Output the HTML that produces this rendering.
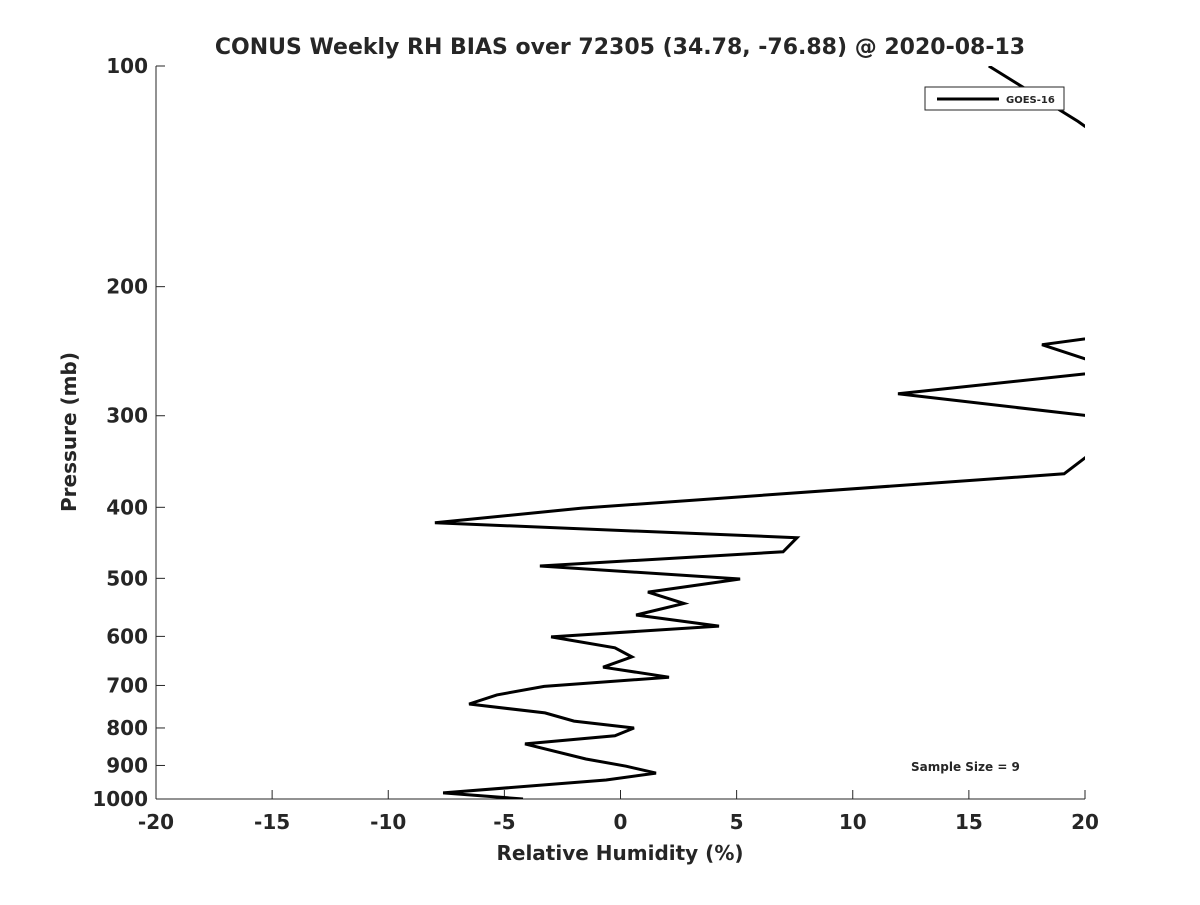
<!DOCTYPE html>
<html><head><meta charset="utf-8"><style>
body{margin:0;background:#fff;}
svg text{font-family:"DejaVu Sans","Liberation Sans",sans-serif;fill:#262626;}
</style></head><body>
<svg width="1200" height="900" viewBox="0 0 1200 900">
<defs><clipPath id="plotclip"><rect x="156" y="66" width="929" height="733"/></clipPath></defs>
<rect width="1200" height="900" fill="#fff"/>
<text x="620" y="54" text-anchor="middle" font-size="22" font-weight="bold" fill="#000">CONUS Weekly RH BIAS over 72305 (34.78, -76.88) @ 2020-08-13</text>
<g id="axes"></g>
<g id="series" clip-path="url(#plotclip)"></g>
<g>
<rect x="925" y="87" width="139" height="23" fill="#fff" stroke="#262626" stroke-width="1"/>
<line x1="937" y1="99" x2="999" y2="99" stroke="#000" stroke-width="3"/>
<text x="1006" y="103" font-size="10" font-weight="bold" fill="#000">GOES-16</text>
</g>
<text x="911" y="771" font-size="12" font-weight="bold" fill="#000">Sample Size = 9</text>
<text x="620" y="860" text-anchor="middle" font-size="20" font-weight="bold">Relative Humidity (%)</text>
<text transform="translate(76,432) rotate(-90)" text-anchor="middle" font-size="20" font-weight="bold">Pressure (mb)</text>
</svg>
<script>
const xTicks=[-20,-15,-10,-5,0,5,10,15,20];
const yTicks=[100,200,300,400,500,600,700,800,900,1000];
const pressure=[100,119,134,231,240,260,280,305,360,401,420,440,460,481,501,522,541,561,581,601,622,640,661,682,702,721,742,763,783,800,820,841,882,902,922,942,981,1000];
const rhBias=[15.86,19.7,22,22,18.15,21.49,11.95,22.09,19.1,-1.66,-7.99,7.6,7.0,-3.47,5.15,1.18,2.73,0.67,4.24,-2.99,-0.24,0.49,-0.75,2.09,-3.29,-5.32,-6.52,-3.25,-2.0,0.58,-0.24,-4.11,-1.49,0.24,1.53,-0.62,-7.64,-4.2];
const L=156,R=1085,T=66,B=799;
const xs=v=>L+(v+20)/40*(R-L);
const ys=p=>T+(Math.log10(p)-2)*(B-T);
const NS='http://www.w3.org/2000/svg';
const ax=document.getElementById('axes');
function mk(tag,attrs,parent){const e=document.createElementNS(NS,tag);for(const k in attrs)e.setAttribute(k,attrs[k]);parent.appendChild(e);return e;}
let e=mk('line',{x1:L,y1:T,x2:L,y2:B,stroke:'#262626','stroke-width':1},ax);


e=mk('line',{x1:L,y1:B,x2:R,y2:B,stroke:'#262626','stroke-width':1},ax);


xTicks.forEach(v=>{
 const x=xs(v);
 let t=mk('line',{x1:x,y1:B,x2:x,y2:B-9,stroke:'#262626'},ax);
 
 
 let l=mk('text',{x:x,y:829,'text-anchor':'middle','font-size':20,'font-weight':'bold'},ax);
 l.textContent=v;
 
 
});
yTicks.forEach(p=>{
 const y=ys(p);
 let t=mk('line',{x1:L,y1:y,x2:L+9,y2:y,stroke:'#262626'},ax);
 
 
 let l=mk('text',{x:148,y:y+7,'text-anchor':'end','font-size':20,'font-weight':'bold'},ax);
 l.textContent=p;
 
 
});
const pts=pressure.map((p,i)=>xs(rhBias[i]).toFixed(1)+','+ys(p).toFixed(1)).join(' ');
const pl=mk('polyline',{points:pts,fill:'none',stroke:'#000','stroke-width':3,'stroke-linejoin':'miter'},document.getElementById('series'));


</script>
</body></html>
